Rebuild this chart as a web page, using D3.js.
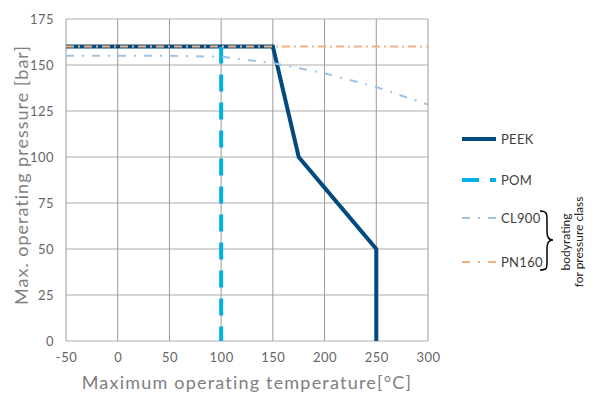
<!DOCTYPE html>
<html>
<head>
<meta charset="utf-8">
<script src="https://cdn.jsdelivr.net/npm/d3@7"></script>
<style>
  body { margin: 0; background: #fff; }
  text { font-family: "Lato", "DejaVu Sans", sans-serif; }
</style>
</head>
<body>
<div id="chart"></div>
<script>
// chart data
var xTicks = [-50, 0, 50, 100, 150, 200, 250, 300];
var yTicks = [0, 25, 50, 75, 100, 125, 150, 175];

var peekTemp = [-50, 150, 175, 250, 250];
var peekPress = [160, 160, 100, 50, 0];

var pomTemp = [100, 100];
var pomPress = [160, 0];

var cl900Temp = [-50, 0, 50, 100, 150, 200, 250, 300];
var cl900Press = [155, 155, 155, 154.5, 151, 145.5, 138, 128.5];

var pn160Temp = [-50, 300];
var pn160Press = [160, 160];

var legendNames = ["PEEK", "POM", "CL900", "PN160"];

var svgWidth = 595;
var svgHeight = 393;

var margin = { top: 19, right: 167, bottom: 52, left: 66 };
var chartWidth = svgWidth - margin.left - margin.right;
var chartHeight = svgHeight - margin.top - margin.bottom;

var svg = d3.select("#chart")
    .append("svg")
    .attr("width", svgWidth)
    .attr("height", svgHeight);

var chartGroup = svg.append("g")
    .attr("transform", `translate(${margin.left}, ${margin.top})`);

var xScale = d3.scaleLinear().domain([-50, 300]).range([0, chartWidth]);
var yScale = d3.scaleLinear().domain([0, 175]).range([chartHeight, 0]);

// grid lines
chartGroup.selectAll(".hgrid")
    .data(yTicks)
    .enter()
    .append("line")
    .attr("x1", 0)
    .attr("x2", chartWidth)
    .attr("y1", d => yScale(d))
    .attr("y2", d => yScale(d))
    .attr("stroke", "#c8c8c8")
    .attr("stroke-width", 1.3);

chartGroup.selectAll(".vgrid")
    .data(xTicks)
    .enter()
    .append("line")
    .attr("x1", d => xScale(d))
    .attr("x2", d => xScale(d))
    .attr("y1", 0)
    .attr("y2", chartHeight)
    .attr("stroke", "#9a9a9a")
    .attr("stroke-width", 1);

// axes (labels only)
var bottomAxis = d3.axisBottom(xScale).tickValues(xTicks).tickSize(0).tickPadding(12)
    .tickFormat(d => String(d));
var leftAxis = d3.axisLeft(yScale).tickValues(yTicks).tickSize(0).tickPadding(12)
    .tickFormat(d => String(d));

var xAxisG = chartGroup.append("g")
    .attr("transform", `translate(0, ${chartHeight})`)
    .call(bottomAxis);
var yAxisG = chartGroup.append("g").call(leftAxis);

[xAxisG, yAxisG].forEach(function (g) {
    g.select(".domain").remove();
    g.selectAll("text")
        .attr("fill", "#666")
        .style("font-size", "13px")
        .style("letter-spacing", "0.5px");
});

var line = d3.line()
    .x(d => xScale(d[0]))
    .y(d => yScale(d[1]));

function pairs(xs, ys) {
    return xs.map((x, i) => [x, ys[i]]);
}

// series
chartGroup.append("path")
    .datum(pairs(peekTemp, peekPress))
    .attr("d", line)
    .attr("fill", "none")
    .attr("stroke", "#004a7f")
    .attr("stroke-width", 4);

chartGroup.append("path")
    .datum(pairs(pomTemp, pomPress))
    .attr("d", line)
    .attr("fill", "none")
    .attr("stroke", "#00b0e8")
    .attr("stroke-width", 4)
    .attr("stroke-dasharray", "17,11");

chartGroup.append("path")
    .datum(pairs(cl900Temp, cl900Press))
    .attr("d", line)
    .attr("fill", "none")
    .attr("stroke", "#9dc3e6")
    .attr("stroke-width", 2)
    .attr("stroke-dasharray", "8,8,2,8");

chartGroup.append("path")
    .datum(pairs(pn160Temp, pn160Press))
    .attr("d", line)
    .attr("fill", "none")
    .attr("stroke", "#f4b183")
    .attr("stroke-width", 2)
    .attr("stroke-dasharray", "8,4,2,4");

// axis titles
chartGroup.append("text")
    .attr("transform", "rotate(-90)")
    .attr("x", -(chartHeight / 2) + 5)
    .attr("y", -margin.left + 28)
    .attr("text-anchor", "middle")
    .attr("fill", "#7f7f7f")
    .style("font-size", "18px")
    .style("letter-spacing", "1px")
    .text("Max. operating pressure  [bar]");

chartGroup.append("text")
    .attr("x", chartWidth / 2)
    .attr("y", chartHeight + 48)
    .attr("text-anchor", "middle")
    .attr("fill", "#7f7f7f")
    .style("font-size", "18px")
    .style("letter-spacing", "1.2px")
    .text("Maximum operating temperature[°C]");

// legend
var legendY = [139, 180, 218, 262];
var legendStyles = [
    { stroke: "#004a7f", width: 4, dash: null },
    { stroke: "#00b0e8", width: 4, dash: "17,11" },
    { stroke: "#9dc3e6", width: 2, dash: "8,8,2,8" },
    { stroke: "#f4b183", width: 2, dash: "8,8,2,8" }
];

var legend = svg.append("g");
legendNames.forEach(function (name, i) {
    var st = legendStyles[i];
    legend.append("line")
        .attr("x1", 462)
        .attr("x2", 496)
        .attr("y1", legendY[i])
        .attr("y2", legendY[i])
        .attr("stroke", st.stroke)
        .attr("stroke-width", st.width)
        .attr("stroke-dasharray", st.dash);
    legend.append("text")
        .attr("x", 501)
        .attr("y", legendY[i])
        .attr("dy", "0.35em")
        .attr("fill", "#404040")
        .style("font-size", "13px")
        .style("letter-spacing", "0.3px")
        .text(name);
});

// brace for the body rating group
legend.append("path")
    .attr("d", "M540,211 C547,211 547,214 547,220 L547,232 C547,238 549,240 553,240 C549,240 547,242 547,248 L547,262 C547,268 547,270 540,270")
    .attr("fill", "none")
    .attr("stroke", "#000")
    .attr("stroke-width", 1.5);

var noteG = legend.append("g")
    .attr("transform", "translate(570, 242) rotate(-90)");
noteG.append("text")
    .attr("text-anchor", "middle")
    .attr("y", 0)
    .attr("fill", "#222")
    .style("font-size", "12px")
    .text("bodyrating");
noteG.append("text")
    .attr("text-anchor", "middle")
    .attr("y", 13)
    .attr("fill", "#222")
    .style("font-size", "12px")
    .text("for pressure class");
</script>
</body>
</html>
